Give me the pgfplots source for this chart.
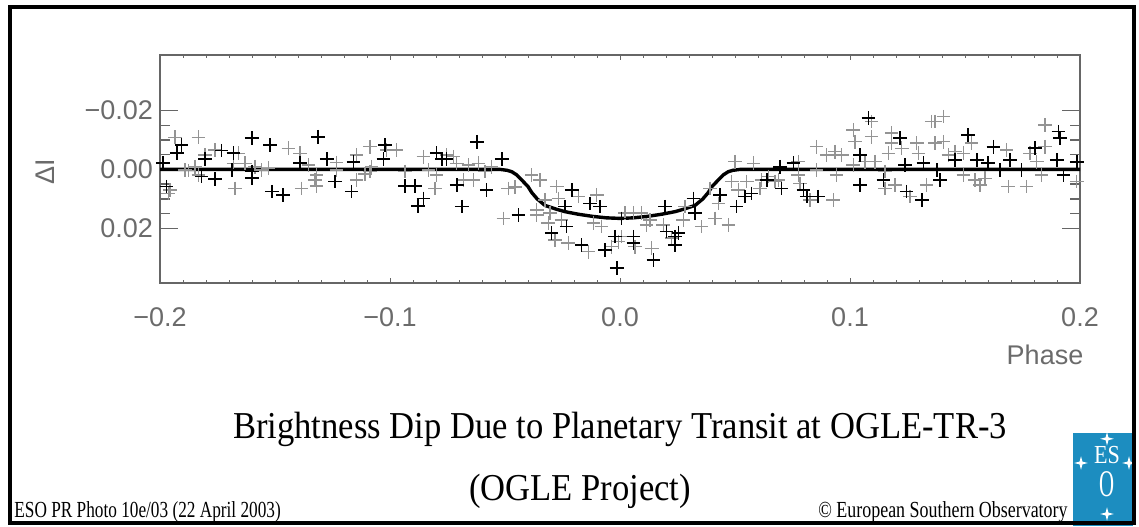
\documentclass[border=0pt]{standalone}
\usepackage{pgfplots}
\pgfplotsset{compat=1.18}
\usepackage{fontspec}
\setmainfont{Liberation Serif}
\newfontfamily\labfont{Liberation Sans}
\definecolor{esoblue}{HTML}{1C8DC0}
\definecolor{labgray}{gray}{0.42}
\definecolor{ptgray}{gray}{0.58}

% light curve, black and grey points (phase, Delta I)
\pgfplotstableread{
x y
-0.1906 -0.0083
-0.1927 -0.0055
-0.1804 -0.0035
-0.1732 -0.0064
-0.1681 -0.0055
-0.1601 -0.0106
-0.1522 -0.0083
-0.1986 -0.0021
-0.1819 0.0024
-0.1761 0.0033
-0.1688 0.0002
-0.1601 0.0007
-0.1601 0.0030
-0.1391 -0.0021
-0.1971 0.0058
-0.1514 0.0075
-0.1464 0.0086
-0.1312 -0.0111
-0.1275 -0.0035
-0.1239 0.0041
-0.1159 -0.0026
-0.1167 0.0075
-0.1029 -0.0035
-0.1022 -0.0083
-0.0935 0.0056
-0.0891 0.0056
-0.0855 0.0098
-0.0877 0.0124
-0.0797 -0.0055
-0.0775 -0.0035
-0.0710 0.0053
-0.0688 0.0126
-0.0754 -0.0035
-0.0623 -0.0094
-0.0580 0.0069
-0.0514 -0.0035
-0.0442 0.0154
-0.0297 0.0216
-0.0239 0.0126
-0.0232 0.0194
-0.0210 0.0069
-0.0167 0.0256
-0.0130 0.0115
-0.0087 0.0126
-0.0065 0.0273
-0.0022 0.0228
-0.0014 0.0335
0.0007 0.0166
0.0058 0.0228
0.0058 0.0250
0.0145 0.0307
0.0196 0.0126
0.0203 0.0211
0.0239 0.0228
0.0254 0.0216
0.0239 0.0256
0.0319 0.0098
0.0326 0.0148
0.0435 0.0086
0.0507 0.0126
0.0543 0.0092
0.0572 0.0081
0.0638 0.0036
0.0703 0.0064
0.0696 -0.0009
0.0754 -0.0021
0.0797 0.0069
0.0812 0.0092
0.0862 0.0092
0.1043 0.0053
0.1043 -0.0049
0.1080 -0.0174
0.1145 0.0036
0.1217 -0.0106
0.1239 -0.0015
0.1246 0.0075
0.1312 0.0103
0.1319 -0.0021
0.1377 0.0002
0.1391 0.0036
0.1457 -0.0032
0.1514 -0.0117
0.1551 -0.0032
0.1601 -0.0021
0.1623 -0.0077
0.1652 0.0002
0.1696 -0.0032
0.1746 0.0002
0.1804 -0.0072
0.1899 -0.0032
0.1906 -0.0128
0.1913 -0.0106
0.1928 0.0019
0.1986 -0.0026
}\blackpts

\pgfplotstableread{
x y
-0.1935 -0.0109
-0.1833 -0.0109
-0.1804 -0.0049
-0.1761 -0.0066
-0.1660 -0.0055
-0.1442 -0.0072
-0.1391 -0.0055
-0.1891 0.0002
-0.1877 0.0004
-0.1848 -0.0009
-0.1833 0.0019
-0.1681 -0.0021
-0.1630 -0.0021
-0.1587 -0.0009
-0.1558 0.0002
-0.1529 -0.0004
-0.1355 -0.0015
-0.1957 0.0069
-0.1964 0.0081
-0.1674 0.0064
-0.1384 0.0064
-0.1232 -0.0023
-0.1319 0.0019
-0.1326 0.0036
-0.1319 0.0056
-0.1232 0.0002
-0.1145 -0.0049
-0.1145 0.0036
-0.1109 0.0015
-0.1087 -0.0077
-0.1080 -0.0009
-0.1087 0.0007
-0.1014 -0.0066
-0.0971 -0.0066
-0.0935 0.0007
-0.0855 -0.0043
-0.0833 0.0002
-0.0804 0.0064
-0.0797 0.0019
-0.0754 -0.0049
-0.0725 -0.0043
-0.0710 -0.0021
-0.0681 0.0036
-0.0616 -0.0021
-0.0659 -0.0015
-0.0638 0.0036
-0.0587 0.0007
-0.0558 -0.0009
-0.0507 0.0166
-0.0486 0.0064
-0.0457 0.0060
-0.0384 0.0019
-0.0348 0.0036
-0.0362 0.0137
-0.0362 0.0154
-0.0326 0.0103
-0.0304 0.0148
-0.0283 0.0239
-0.0275 0.0058
-0.0268 0.0098
-0.0225 0.0250
-0.0181 0.0092
-0.0138 0.0279
-0.0116 0.0182
-0.0101 0.0086
-0.0080 0.0194
-0.0007 0.0245
-0.0036 0.0262
-0.0254 0.0171
-0.0312 0.0182
0.0007 0.0228
0.0065 0.0262
0.0138 0.0267
0.0022 0.0148
0.0058 0.0148
0.0094 0.0148
0.0130 0.0171
0.0188 0.0188
0.0275 0.0171
0.0283 0.0126
0.0355 0.0194
0.0391 0.0064
0.0413 0.0166
0.0428 0.0115
0.0471 0.0188
0.0486 0.0041
0.0500 -0.0026
0.0514 0.0069
0.0551 0.0041
0.0580 -0.0021
0.0609 0.0064
0.0645 0.0024
0.0674 0.0041
0.0616 0.0036
0.0116 0.0188
0.0225 0.0233
0.0688 0.0036
0.0775 -0.0026
0.0775 0.0019
0.0783 0.0047
0.0826 0.0103
0.0855 -0.0077
0.0855 0.0002
0.0899 -0.0049
0.0927 0.0103
0.0935 -0.0060
0.0942 0.0019
0.0964 -0.0049
0.1014 -0.0134
0.1022 -0.0094
0.1014 -0.0015
0.1065 -0.0026
0.1094 -0.0162
0.1094 -0.0111
0.1109 -0.0026
0.1152 0.0064
0.1167 -0.0055
0.1181 -0.0123
0.1181 -0.0089
0.1196 0.0053
0.1225 -0.0072
0.1261 0.0092
0.1290 -0.0089
0.1297 -0.0055
0.1333 0.0053
0.1355 -0.0162
0.1152 0.0007
0.1370 -0.0162
0.1406 -0.0179
0.1370 -0.0089
0.1406 -0.0094
0.1457 -0.0060
0.1493 -0.0055
0.1493 0.0019
0.1529 -0.0089
0.1543 0.0036
0.1565 0.0053
0.1587 0.0030
0.1681 -0.0066
0.1688 0.0058
0.1768 0.0058
0.1783 -0.0055
0.1812 -0.0026
0.1833 0.0019
0.1848 -0.0151
0.1848 -0.0077
0.1986 0.0041
0.1428 -0.0049
}\greypts

% transit model curve
\pgfplotstableread{
x y
-0.200 0
-0.052 0
-0.049 0.0003
-0.047 0.0008
-0.045 0.0018
-0.0427 0.0036
-0.040 0.0058
-0.0384 0.0078
-0.036 0.0100
-0.0326 0.0122
-0.028 0.0134
-0.024 0.0143
-0.018 0.0152
-0.012 0.0159
-0.006 0.0164
0 0.0166
0.006 0.0164
0.012 0.0159
0.018 0.0152
0.024 0.0143
0.028 0.0134
0.0326 0.0122
0.036 0.0100
0.0384 0.0078
0.040 0.0058
0.0427 0.0036
0.045 0.0018
0.047 0.0008
0.049 0.0003
0.052 0
0.200 0
}\model

\begin{document}
\begin{tikzpicture}
\path[use as bounding box] (0,0) rectangle (569.5pt,263pt);

\pgfplotsset{every axis/.append style={
    at={(80pt,121.5pt)}, anchor=south west, scale only axis,
    width=460pt, height=114pt,
    xmin=-0.2, xmax=0.2, ymin=-0.0388, ymax=0.0385, y dir=reverse,
    scaled y ticks=false, scaled x ticks=false,
    tick align=inside,
    tick label style={font=\labfont\fontsize{13.5}{13.5}\selectfont, text=labgray},
}}

% y ticks (long)
\begin{axis}[
    axis line style={draw=none},
    xtick=\empty,
    ytick={-0.02,0,0.02},
    yticklabels={−0.02,0.00,0.02},
    minor y tick num=3,
    major tick length=9pt, minor tick length=5pt,
    ytick style={draw=gray!80!black, line width=0.7pt},
]
\end{axis}

\begin{axis}[
    axis line style={gray!80!black, line width=0.7pt},
    ytick=\empty,
    xtick={-0.2,-0.1,0,0.1,0.2},
    xticklabels={−0.2,−0.1,0.0,0.1,0.2},
    minor x tick num=9,
    major tick length=2.5pt, minor tick length=1.5pt,
    xtick style={draw=gray!80!black, line width=0.5pt},
    xticklabel style={yshift=-9pt},
    clip=true,
]
\addplot[only marks, mark=+, mark size=3.4pt, color=ptgray,
    mark options={line width=0.7pt}] table {\greypts};
\addplot[only marks, mark=+, mark size=3.4pt, color=black,
    mark options={line width=0.8pt}] table {\blackpts};
\addplot[black, line width=1.7pt, line join=round] table {\model};
\end{axis}

\node[rotate=90, font=\labfont\fontsize{13.5}{13.5}\selectfont, text=labgray] at (22.5pt,177pt) {ΔI};
\node[font=\labfont\fontsize{13.5}{13.5}\selectfont, text=labgray] at (522.5pt,85.5pt) {Phase};

\node[anchor=base, inner sep=0, font=\fontsize{19}{22}\selectfont] at (310pt,44pt)
    {\scalebox{0.91}[1]{Brightness Dip Due to Planetary Transit at OGLE-TR-3}};
\node[anchor=base, inner sep=0, font=\fontsize{19}{22}\selectfont] at (290pt,13pt)
    {\scalebox{0.91}[1]{(OGLE Project)}};
\node[anchor=base west, inner sep=0, font=\fontsize{11.5}{12}\selectfont] at (7pt,4.5pt)
    {\scalebox{0.75}[1]{ESO PR Photo 10e/03 (22 April 2003)}};
\node[anchor=base east, inner sep=0, font=\fontsize{11.5}{12}\selectfont] at (534pt,4.5pt)
    {\scalebox{0.78}[1]{© European Southern Observatory}};

% ESO logo
\fill[esoblue] (536.5pt,0pt) rectangle (566.5pt,46.5pt);
\node[text=white, inner sep=0, font=\fontsize{13}{13}\selectfont] at (553.5pt,35.5pt) {\scalebox{0.85}[1]{ES}};
\node[text=white, inner sep=0, font=\fontsize{13}{13}\selectfont] at (553.5pt,21pt) {\scalebox{0.8}[1.45]{O}};
\foreach \sx/\sy in {553.5/43.6, 540.5/31.5, 564.5/31.5, 553.5/6} {
  \fill[white] (\sx pt,\sy pt) ++(0,3.4pt) -- ++(0.7pt,-2.7pt) -- ++(2.7pt,-0.7pt)
     -- ++(-2.7pt,-0.7pt) -- ++(-0.7pt,-2.7pt) -- ++(-0.7pt,2.7pt)
     -- ++(-2.7pt,0.7pt) -- ++(2.7pt,0.7pt) -- cycle;
}

% outer frame
\draw[line width=2pt] (5pt,1.5pt) rectangle (567pt,259.5pt);
\end{tikzpicture}
\end{document}
